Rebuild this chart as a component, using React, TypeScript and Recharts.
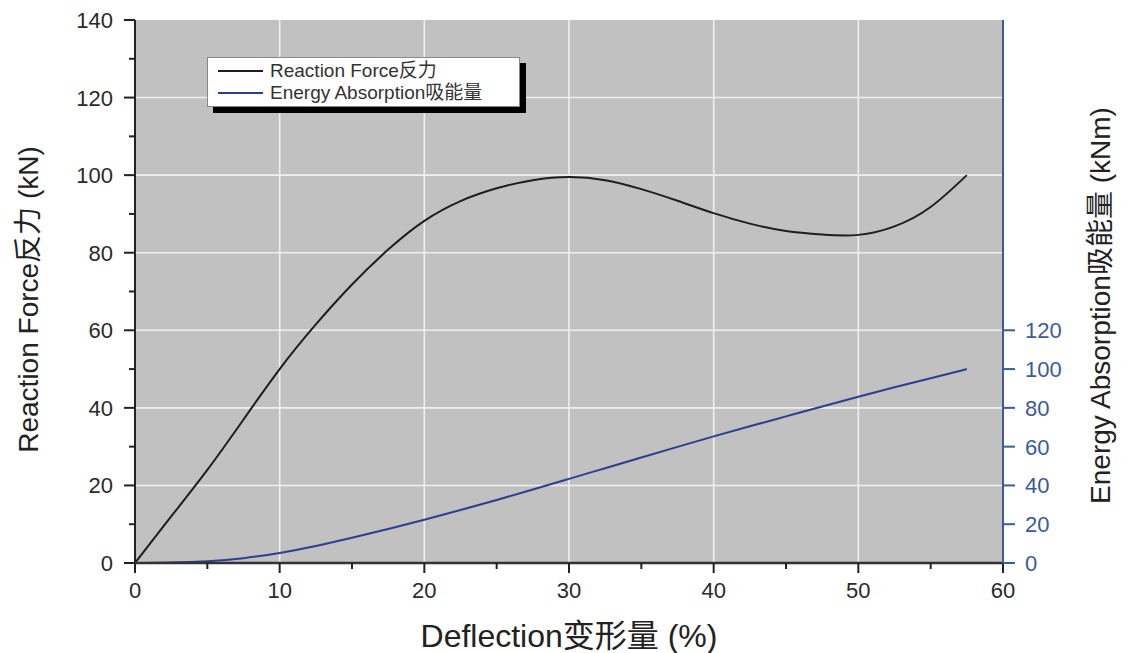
import React from 'react';
import { LineChart, Line, XAxis, YAxis, ReferenceLine, CartesianGrid, Legend, Label } from 'recharts';

const deflection = [0, 2.5, 5, 7.5, 10, 12.5, 15, 17.5, 20, 22.5, 25, 27.5, 30, 32.5, 35, 37.5, 40, 42.5, 45, 47.5, 50, 52.5, 55, 57.5];
const reactionForce = [0, 12, 24, 37, 50, 61.5, 71.8, 80.8, 88.2, 93.3, 96.6, 98.7, 99.5, 98.7, 96.4, 93.4, 90.2, 87.5, 85.6, 84.7, 84.6, 86.8, 91.8, 100];
const energyAbsorption = [0, 0.2, 0.9, 2.5, 5.2, 8.8, 13.0, 17.5, 22.3, 27.3, 32.5, 37.9, 43.4, 48.9, 54.4, 59.9, 65.3, 70.5, 75.6, 80.7, 85.7, 90.6, 95.3, 100];

const seriesOrder = ['force', 'energy'];
const xTicks = [0, 5, 10, 15, 20, 25, 30, 35, 40, 45, 50, 55, 60];
const xMajor = [0, 10, 20, 30, 40, 50, 60];
const xGrid = [10, 20, 30, 40, 50];
const leftTicks = [0, 10, 20, 30, 40, 50, 60, 70, 80, 90, 100, 110, 120, 130, 140];
const leftMajor = [0, 20, 40, 60, 80, 100, 120, 140];
const yGrid = [20, 40, 60, 80, 100, 120];
const rightTicks = [0, 20, 40, 60, 80, 100, 120];

const data = deflection.map((x, i) => ({ x, force: reactionForce[i], energy: energyAbsorption[i] }));

const FONT = '"Liberation Sans", Arial, "Noto Sans CJK SC", sans-serif';
const BLUE = '#3b5b9a';
const DARK = '#222';

const BottomTick = (props: any) => {
  const { x, y, payload } = props;
  const v = payload.value;
  const major = xMajor.includes(v);
  return (
    <g>
      <line x1={x} y1={y} x2={x} y2={y + (major ? 10 : 6)} stroke={DARK} strokeWidth={2} />
      {major && (
        <text x={x} y={y + 35} textAnchor="middle" fontSize={22} fill="#2a2a2a" fontFamily={FONT}>{v}</text>
      )}
    </g>
  );
};

const TopTick = (props: any) => {
  const { x, y } = props;
  return <line x1={x} y1={y} x2={x} y2={y + 7} stroke={DARK} strokeWidth={2} />;
};

const LeftTick = (props: any) => {
  const { x, y, payload } = props;
  const v = payload.value;
  const major = leftMajor.includes(v);
  return (
    <g>
      <line x1={x} y1={y} x2={x - (major ? 11 : 6)} y2={y} stroke={DARK} strokeWidth={2} />
      {major && (
        <text x={x - 22} y={y + 8} textAnchor="end" fontSize={22} fill="#2a2a2a" fontFamily={FONT}>{v}</text>
      )}
    </g>
  );
};

const RightTick = (props: any) => {
  const { x, y, payload } = props;
  const v = payload.value;
  return (
    <g>
      <line x1={x} y1={y} x2={x + 12} y2={y} stroke={BLUE} strokeWidth={2} />
      <text x={x + 22} y={y + 8} textAnchor="start" fontSize={22} fill={BLUE} fontFamily={FONT}>{v}</text>
    </g>
  );
};

const LegendBox = (props: any) => {
  const payload = [...(props.payload || [])].sort(
    (a: any, b: any) => seriesOrder.indexOf(a.dataKey) - seriesOrder.indexOf(b.dataKey)
  );
  return (
    <div
      style={{
        width: 313,
        height: 50,
        background: '#fff',
        border: '1px solid #888',
        boxShadow: '6px 6px 0 #000',
        fontFamily: FONT,
        fontSize: 19,
        color: '#333',
        paddingTop: 2,
        boxSizing: 'border-box',
      }}
    >
      {payload.map((p: any, i: number) => (
        <div key={i} style={{ display: 'flex', alignItems: 'center', height: 22 }}>
          <svg width={62} height={6} style={{ flex: 'none' }}>
            <line x1={10} y1={3} x2={55} y2={3} stroke={p.color} strokeWidth={2} />
          </svg>
          <span style={{ whiteSpace: 'nowrap', lineHeight: '22px' }}>{p.value}</span>
        </div>
      ))}
    </div>
  );
};

const LeftTitle = (props: any) => {
  const { x, y, height } = props.viewBox;
  const cx = x + 20;
  const cy = y + height / 2 + 8;
  return (
    <text x={cx} y={cy} transform={`rotate(-90 ${cx} ${cy})`} textAnchor="middle" dominantBaseline="central" fontSize={28} fill={DARK} fontFamily={FONT}>
      Reaction Force反力 (kN)
    </text>
  );
};

const RightTitle = (props: any) => {
  const { x, y, height } = props.viewBox;
  const cx = x + 97;
  const cy = y + height / 2 + 14;
  return (
    <text x={cx} y={cy} transform={`rotate(-90 ${cx} ${cy})`} textAnchor="middle" dominantBaseline="central" fontSize={28} fill={DARK} fontFamily={FONT}>
      Energy Absorption吸能量 (kNm)
    </text>
  );
};

const BottomTitle = (props: any) => {
  const { x, y, width } = props.viewBox;
  return (
    <text x={x + width / 2} y={y + 73} textAnchor="middle" dominantBaseline="central" fontSize={32} fill={DARK} fontFamily={FONT}>
      Deflection变形量 (%)
    </text>
  );
};

export default function App() {
  return (
    <div style={{ width: 1119, height: 645, background: '#fff', position: 'relative' }}>
      <LineChart width={1119} height={645} data={data} margin={{ top: 12, right: 0, bottom: 0, left: 0 }}>
        <CartesianGrid xAxisId="bottom" yAxisId="left" horizontal={false} vertical={false} fill="#c1c1c1" stroke="none" />
        <XAxis
          xAxisId="bottom"
          dataKey="x"
          type="number"
          domain={[0, 60]}
          ticks={xTicks}
          interval={0}
          height={90}
          tickSize={0}
          tickMargin={0}
          tickLine={false}
          axisLine={{ stroke: '#333', strokeWidth: 2.5 }}
          tick={(p: any) => <BottomTick {...p} />}
          allowDataOverflow
        >
          <Label content={(p: any) => <BottomTitle {...p} />} />
        </XAxis>
        <XAxis
          xAxisId="top"
          orientation="top"
          type="number"
          domain={[0, 60]}
          ticks={xTicks}
          interval={0}
          height={0}
          tickSize={0}
          tickMargin={0}
          tickLine={false}
          axisLine={{ stroke: '#444', strokeWidth: 2 }}
          tick={(p: any) => <TopTick {...p} />}
          allowDataOverflow
        />
        <YAxis
          yAxisId="left"
          orientation="left"
          type="number"
          domain={[0, 140]}
          ticks={leftTicks}
          interval={0}
          width={127}
          tickSize={0}
          tickMargin={0}
          tickLine={false}
          axisLine={{ stroke: DARK, strokeWidth: 2 }}
          tick={(p: any) => <LeftTick {...p} />}
          allowDataOverflow
        >
          <Label content={(p: any) => <LeftTitle {...p} />} />
        </YAxis>
        <YAxis
          yAxisId="right"
          orientation="right"
          type="number"
          domain={[0, 280]}
          ticks={rightTicks}
          interval={0}
          width={124}
          tickSize={0}
          tickMargin={0}
          tickLine={false}
          axisLine={{ stroke: BLUE, strokeWidth: 2 }}
          tick={(p: any) => <RightTick {...p} />}
          allowDataOverflow
        >
          <Label content={(p: any) => <RightTitle {...p} />} />
        </YAxis>
        {xGrid.map((v) => (
          <ReferenceLine key={'gx' + v} xAxisId="bottom" yAxisId="left" x={v} stroke="#f0f0f0" strokeWidth={1.6} />
        ))}
        {yGrid.map((v) => (
          <ReferenceLine key={'gy' + v} xAxisId="bottom" yAxisId="left" y={v} stroke="#f0f0f0" strokeWidth={1.6} />
        ))}
        <Legend
          layout="vertical"
          align="center"
          verticalAlign="middle"
          content={(p: any) => <LegendBox {...p} />}
          wrapperStyle={{ position: 'absolute', left: 199, top: 49, width: 'auto', height: 'auto' }}
        />
        <Line
          xAxisId="bottom"
          yAxisId="left"
          type="natural"
          dataKey="force"
          name="Reaction Force反力"
          stroke="#1e1e1e"
          strokeWidth={2}
          dot={false}
          isAnimationActive={false}
        />
        <Line
          xAxisId="bottom"
          yAxisId="right"
          type="natural"
          dataKey="energy"
          name="Energy Absorption吸能量"
          stroke="#2c3f8c"
          strokeWidth={2}
          dot={false}
          isAnimationActive={false}
        />
      </LineChart>
    </div>
  );
}
